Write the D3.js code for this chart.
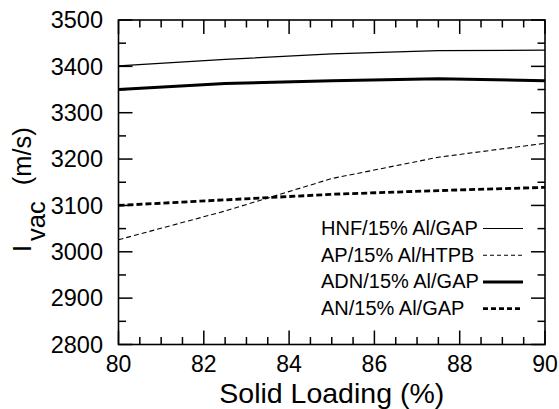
<!DOCTYPE html>
<html>
<head>
<meta charset="utf-8">
<script src="https://cdn.jsdelivr.net/npm/d3@7"></script>
<style>
  body { margin: 0; background: #fff; }
  text { font-family: "Liberation Sans", Arial, sans-serif; fill: #000; }
</style>
</head>
<body>
<script>
// solid loading values (%)
var loading = [80, 82.5, 85, 87.5, 90];

// vacuum specific impulse (m/s) for each propellant
var hnf = [3401, 3415, 3427, 3434, 3435];
var ap  = [3026, 3088, 3158, 3204, 3234];
var adn = [3350, 3363, 3369, 3373, 3369];
var an  = [3100, 3112, 3124, 3132, 3139];

var seriesNames = ["HNF/15% Al/GAP", "AP/15% Al/HTPB", "ADN/15% Al/GAP", "AN/15% Al/GAP"];
var xTicks = [80, 82, 84, 86, 88, 90];
var yTicks = [2800, 2900, 3000, 3100, 3200, 3300, 3400, 3500];

var W = 559, H = 409;
var pLeft = 118.5, pRight = 545, pTop = 20, pBottom = 344.5;

var svg = d3.select("body").append("svg")
    .attr("width", W)
    .attr("height", H);

var x = d3.scaleLinear().domain([80, 90]).range([pLeft, pRight]);
var y = d3.scaleLinear().domain([2800, 3500]).range([pBottom, pTop]);

var styles = [
  { w: 1.2, dash: null },
  { w: 1.1, dash: "5,3" },
  { w: 3, dash: null },
  { w: 2.8, dash: "6,3" }
];
var allSeries = [hnf, ap, adn, an];

// plot lines
var line = d3.line()
    .x(function(d, i) { return x(loading[i]); })
    .y(function(d) { return y(d); });

var plot = svg.append("g");
allSeries.forEach(function(s, k) {
  plot.append("path")
      .datum(s)
      .attr("d", line)
      .attr("fill", "none")
      .attr("stroke", "#000")
      .attr("stroke-width", styles[k].w)
      .attr("stroke-linejoin", "round")
      .attr("stroke-dasharray", styles[k].dash);
});

// ticks inward on all four sides
var xMinor = d3.range(80, 90.01, 0.5);
var yMinor = d3.range(2800, 3500.1, 50);

function isMajorX(v) { return Math.abs(v / 2 - Math.round(v / 2)) < 1e-6; }
function isMajorY(v) { return Math.abs(v / 100 - Math.round(v / 100)) < 1e-6; }

var ticks = svg.append("g").attr("stroke", "#000").attr("stroke-width", 1.5);
xMinor.forEach(function(v) {
  var len = isMajorX(v) ? 14 : 7.5;
  ticks.append("line").attr("x1", x(v)).attr("x2", x(v)).attr("y1", pBottom).attr("y2", pBottom - len);
  ticks.append("line").attr("x1", x(v)).attr("x2", x(v)).attr("y1", pTop).attr("y2", pTop + len);
});
yMinor.forEach(function(v) {
  var len = isMajorY(v) ? 14 : 7.5;
  ticks.append("line").attr("y1", y(v)).attr("y2", y(v)).attr("x1", pLeft).attr("x2", pLeft + len);
  ticks.append("line").attr("y1", y(v)).attr("y2", y(v)).attr("x1", pRight).attr("x2", pRight - len);
});

// frame
svg.append("rect")
    .attr("x", pLeft).attr("y", pTop)
    .attr("width", pRight - pLeft).attr("height", pBottom - pTop)
    .attr("fill", "none").attr("stroke", "#000").attr("stroke-width", 1.6);

// tick labels
svg.append("g").selectAll("text")
  .data(xTicks)
  .enter().append("text")
    .attr("x", function(d) { return x(d); })
    .attr("y", 372)
    .attr("text-anchor", "middle")
    .attr("font-size", 23)
    .text(function(d) { return d; });

svg.append("g").selectAll("text")
  .data(yTicks)
  .enter().append("text")
    .attr("x", 103)
    .attr("y", function(d) { return y(d); })
    .attr("dy", "0.35em")
    .attr("text-anchor", "end")
    .attr("font-size", 23.5)
    .text(function(d) { return d; });

// axis titles
svg.append("text")
    .attr("x", (pLeft + pRight) / 2)
    .attr("y", 403)
    .attr("text-anchor", "middle")
    .attr("font-size", 28.5)
    .text("Solid Loading (%)");

var yl = svg.append("text")
    .attr("transform", "translate(31,252) rotate(-90)")
    .attr("font-size", 25.5);
yl.append("tspan").text("I");
yl.append("tspan").attr("dy", 14).attr("dx", 4).text("vac");
yl.append("tspan").attr("dy", -14).attr("dx", 16).text("(m/s)");

// legend
var legend = svg.append("g");
seriesNames.forEach(function(name, k) {
  var ly = 235 + k * 26.7;
  legend.append("text")
      .attr("x", 321)
      .attr("y", ly)
      .attr("font-size", 20)
      .text(name);
  legend.append("line")
      .attr("x1", 483).attr("x2", 523)
      .attr("y1", ly - 6.5).attr("y2", ly - 6.5)
      .attr("stroke", "#000")
      .attr("stroke-width", styles[k].w)
      .attr("stroke-dasharray", k === 1 ? "4,3" : (k === 3 ? "5,3" : null));
});
</script>
</body>
</html>
